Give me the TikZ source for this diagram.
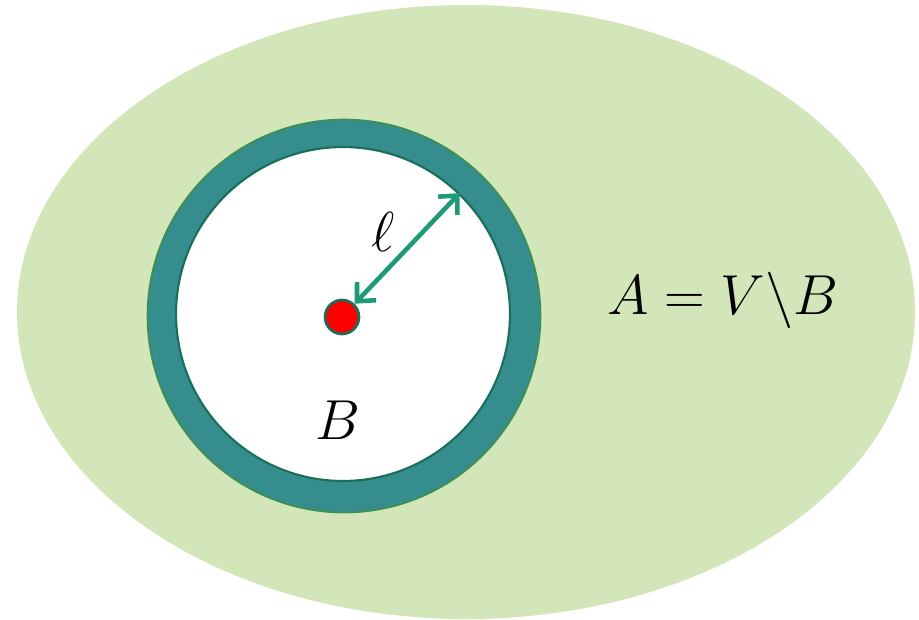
\documentclass[tikz,border=0pt]{standalone}
\usepackage{tikz}
\usetikzlibrary{arrows.meta}
\definecolor{outside}{RGB}{210,230,185}
\definecolor{shell}{RGB}{53,141,141}
\definecolor{shelledge}{RGB}{62,143,80}
\definecolor{inneredge}{RGB}{26,111,90}
\definecolor{arrowgreen}{RGB}{31,154,119}
\tikzset{bigmath/.style={font=\Huge, scale=1.29, transform shape}}

\begin{document}
\begin{tikzpicture}[x=0.02cm,y=-0.02cm]
\useasboundingbox (0,0) rectangle (919,619);
\fill [outside] (466,312) ellipse [x radius=449, y radius=307];
\node [circle, fill=shell, draw=shelledge, line width=1pt, minimum size=7.86cm, inner sep=0pt] (ball) at (344,316) {};
\node [circle, fill=white, draw=inneredge, line width=1.2pt, minimum size=6.68cm, inner sep=0pt] (inner) at (343,314) {};
\node [circle, fill=red, draw=inneredge, line width=1.5pt, minimum size=0.68cm, inner sep=0pt] (center) at (342,317) {};
\draw [arrowgreen, line width=2.6pt, {Straight Barb[length=8pt,width=15pt]}-{Straight Barb[length=8pt,width=15pt]}] (center) -- (inner.46);
\node [bigmath] (ell) at (383,232) {$\ell$};
\node [bigmath] (setB) at (338,420) {$B$};
\node [bigmath] (setA) at (723,300) {$A = V\backslash B$};
\end{tikzpicture}
\end{document}
